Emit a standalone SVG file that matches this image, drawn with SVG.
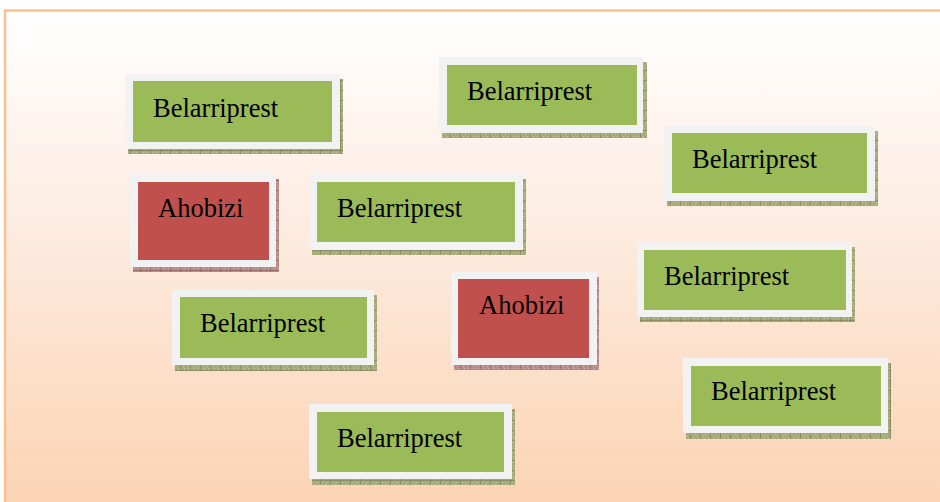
<svg xmlns="http://www.w3.org/2000/svg" width="940" height="502" viewBox="0 0 940 502">
<defs>
<linearGradient id="bg" x1="0" y1="0" x2="0" y2="1">
<stop offset="0" stop-color="#ffffff"/>
<stop offset="0.35" stop-color="#fdefe6"/>
<stop offset="1" stop-color="#fbd3b3"/>
</linearGradient>
<pattern id="hatchG" width="10" height="10" patternUnits="userSpaceOnUse">
<rect width="10" height="10" fill="#a7aa78"/>
<path d="M0 0h1v1h-1zM2 2h1v1h-1zM4 0h1v1h-1zM6 2h1v1h-1zM8 0h1v1h-1zM1 4h1v1h-1zM5 4h1v1h-1zM3 6h1v1h-1zM7 6h1v1h-1zM0 8h1v1h-1zM4 8h1v1h-1zM8 8h1v1h-1z" fill="#c6c9a0"/>
<path d="M0 0V10M0 0H10" stroke="#6c7045" stroke-width="1"/>
</pattern>
<pattern id="hatchR" width="10" height="10" patternUnits="userSpaceOnUse">
<rect width="10" height="10" fill="#b88a88"/>
<path d="M0 0h1v1h-1zM2 2h1v1h-1zM4 0h1v1h-1zM6 2h1v1h-1zM8 0h1v1h-1zM1 4h1v1h-1zM5 4h1v1h-1zM3 6h1v1h-1zM7 6h1v1h-1zM0 8h1v1h-1zM4 8h1v1h-1zM8 8h1v1h-1z" fill="#d6b3b1"/>
<path d="M0 0V10M0 0H10" stroke="#7a4e4c" stroke-width="1"/>
</pattern>
</defs>
<style>
.sg{fill:url(#hatchG)}
.sr{fill:url(#hatchR)}
.frame{fill:#f2f2f2}
.g{fill:#9bbb59}
.r{fill:#c0504d}
.t{font-family:"Liberation Serif","Times New Roman",serif;font-size:26.5px;fill:#000}
</style>
<rect x="0" y="0" width="940" height="502" fill="#ffffff"/>
<rect x="5" y="10.5" width="945" height="500" fill="url(#bg)" stroke="#fac090" stroke-width="2.5"/>
<g id="connectors"/>
<g id="node1">
<rect class="sg" x="128" y="79" width="215" height="75"/>
<rect class="frame" x="125" y="74" width="215" height="75"/>
<rect class="g" x="133" y="81" width="199" height="61"/>
<text class="t" x="153" y="117">Belarriprest</text>
</g>
<g id="node2">
<rect class="sg" x="442" y="62" width="205" height="76"/>
<rect class="frame" x="439" y="57" width="204" height="76"/>
<rect class="g" x="447" y="65" width="190" height="60"/>
<text class="t" x="467" y="100">Belarriprest</text>
</g>
<g id="node3">
<rect class="sg" x="667" y="131" width="211" height="75"/>
<rect class="frame" x="664" y="126" width="211" height="75"/>
<rect class="g" x="672" y="133" width="195" height="60"/>
<text class="t" x="692" y="168">Belarriprest</text>
</g>
<g id="node4">
<rect class="sr" x="133" y="179" width="146" height="93"/>
<rect class="frame" x="130" y="174" width="146" height="93"/>
<rect class="r" x="138" y="182" width="131" height="78"/>
<text class="t" x="158" y="217">Ahobizi</text>
</g>
<g id="node5">
<rect class="sg" x="312" y="179" width="214" height="76"/>
<rect class="frame" x="309" y="174" width="214" height="76"/>
<rect class="g" x="317" y="182" width="198" height="60"/>
<text class="t" x="337" y="217">Belarriprest</text>
</g>
<g id="node6">
<rect class="sg" x="640" y="247" width="215" height="75"/>
<rect class="frame" x="637" y="242" width="215" height="75"/>
<rect class="g" x="644" y="250" width="202" height="60"/>
<text class="t" x="664" y="285">Belarriprest</text>
</g>
<g id="node7">
<rect class="sg" x="175" y="295" width="202" height="76"/>
<rect class="frame" x="172" y="290" width="202" height="75"/>
<rect class="g" x="180" y="297" width="187" height="61"/>
<text class="t" x="200" y="332">Belarriprest</text>
</g>
<g id="node8">
<rect class="sr" x="454" y="277" width="145" height="93"/>
<rect class="frame" x="451" y="272" width="146" height="93"/>
<rect class="r" x="458" y="279" width="131" height="79"/>
<text class="t" x="479" y="314">Ahobizi</text>
</g>
<g id="node9">
<rect class="sg" x="686" y="363" width="205" height="76"/>
<rect class="frame" x="683" y="358" width="205" height="75"/>
<rect class="g" x="691" y="366" width="190" height="60"/>
<text class="t" x="711" y="400">Belarriprest</text>
</g>
<g id="node10">
<rect class="sg" x="312" y="409" width="203" height="76"/>
<rect class="frame" x="309" y="404" width="203" height="75"/>
<rect class="g" x="317" y="412" width="187" height="60"/>
<text class="t" x="337" y="447">Belarriprest</text>
</g>
</svg>
